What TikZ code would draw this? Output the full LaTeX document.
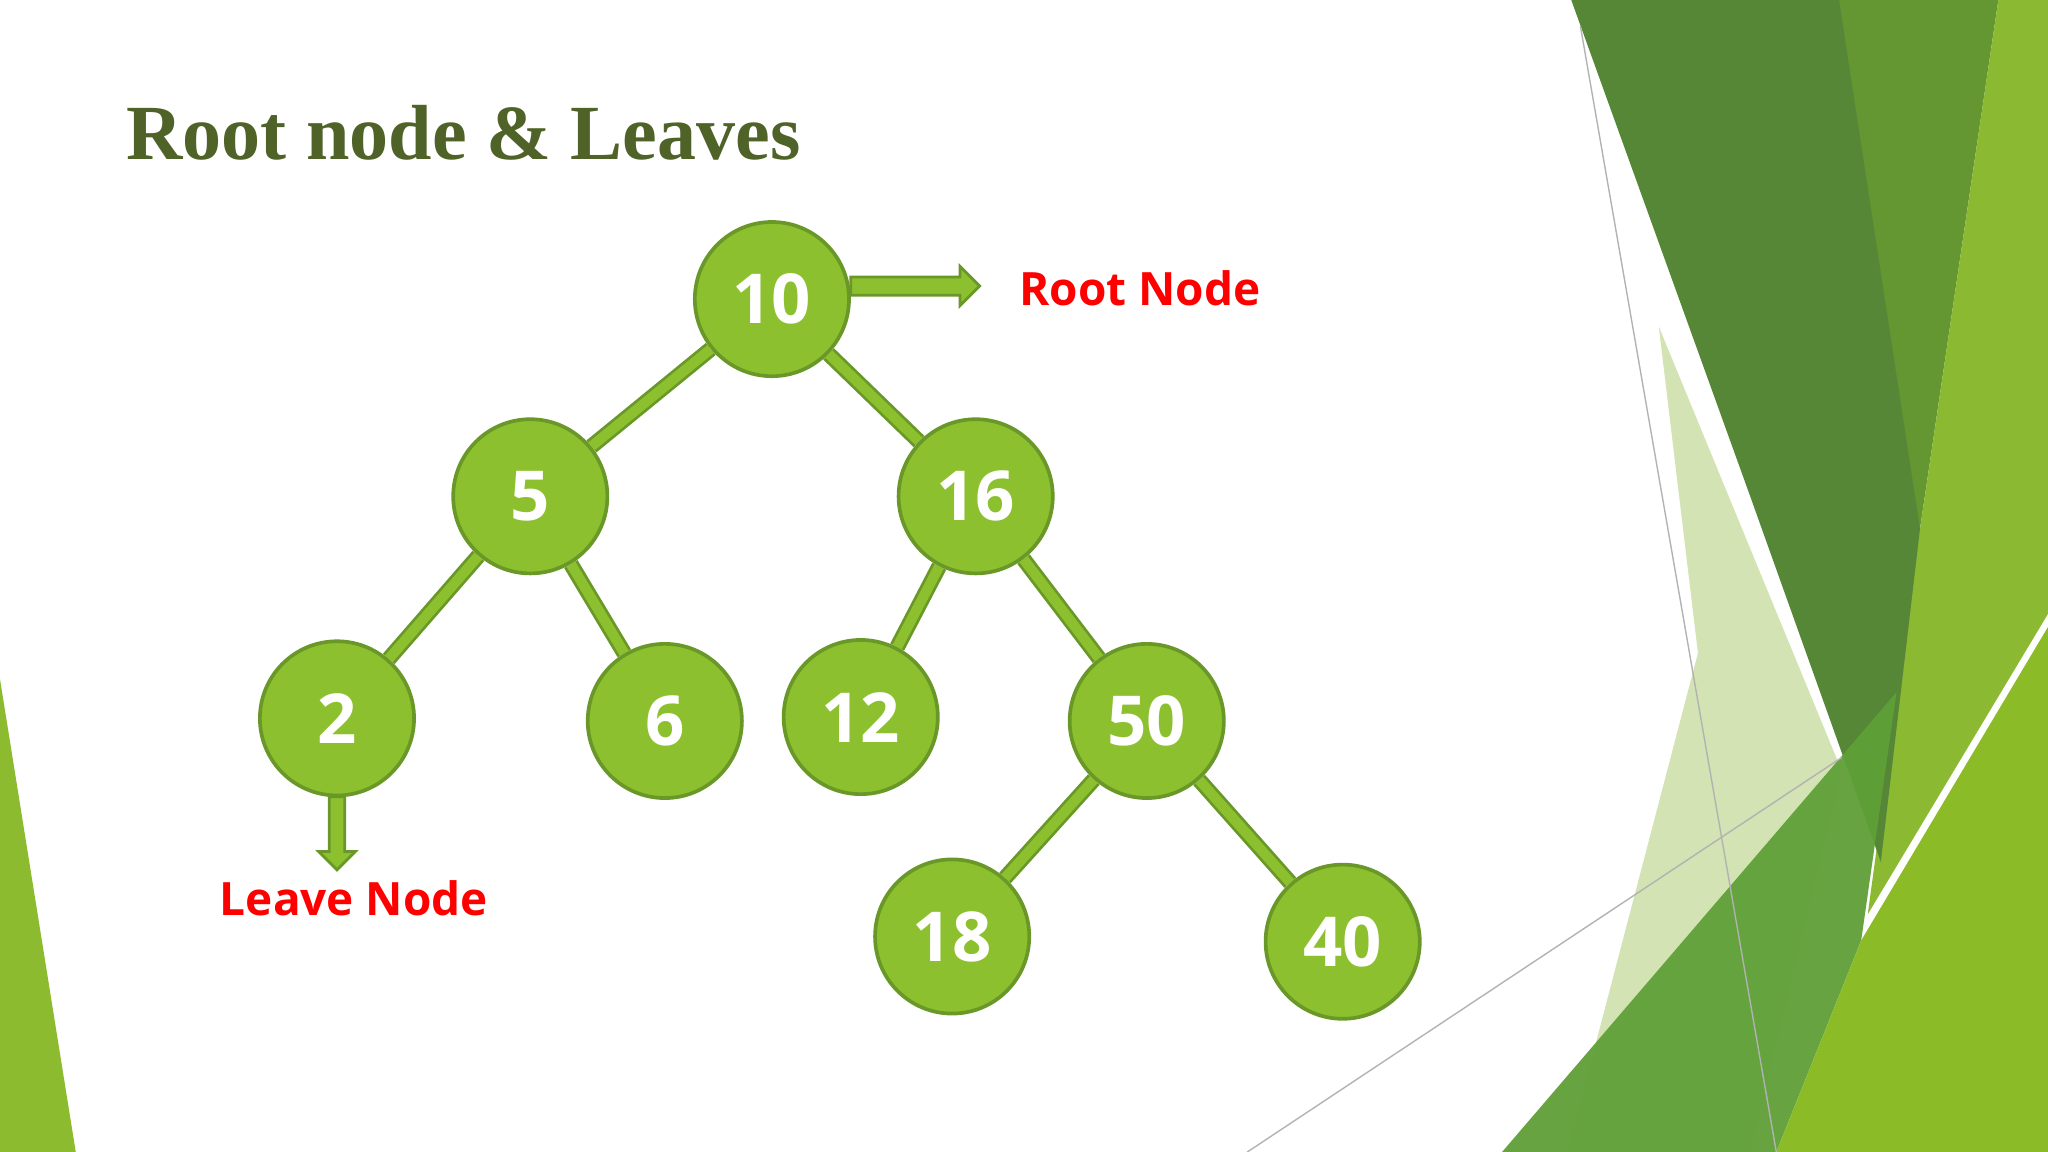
\documentclass[tikz,border=0pt]{standalone}
\usepackage{fontspec}
\setmainfont{Liberation Serif}
\newfontfamily\nodefont{Open Sans}
\begin{document}
\begin{tikzpicture}[x=0.01cm,y=-0.01cm,
  tnode/.style={circle,fill=nodefill,draw=nodeedge,line width=0.8pt,minimum size=1.18cm,inner sep=0pt,text=white,font=\nodefont\bfseries\fontsize{15}{18}\selectfont},
  tedge/.style={draw=nodeedge,line width=0.6pt,double=nodefill,double distance=2.2pt},
  lbl/.style={text=red,font=\nodefont\bfseries\fontsize{10}{12}\selectfont},
  blockarrow/.style={fill=nodefill,draw=nodeedge,line width=0.6pt}]
\definecolor{nodefill}{HTML}{8DC02F}
\definecolor{nodeedge}{HTML}{6A9828}
\definecolor{titlecol}{HTML}{4F6228}
\definecolor{leftstrip}{HTML}{8DBB2F}
\useasboundingbox (0,0) rectangle (1568,882);
\fill[white] (0,0) rectangle (1568,882);
% background decoration
\fill[leftstrip] (0,520) -- (58,882) -- (0,882) -- cycle;
\fill[color={rgb,255:red,200;green,220;blue,160},opacity=0.8] (1270,250) -- (1410,590) -- (1340,882) -- (1200,882) -- (1300,500) -- cycle;
\fill[color={rgb,255:red,100;green,150;blue,50}] (1408,0) -- (1530,0) -- (1470,405) -- (1440,660) -- cycle;
\fill[color={rgb,255:red,140;green,185;blue,50}] (1530,0) -- (1568,0) -- (1568,470) -- (1430,700) -- (1470,405) -- cycle;
\fill[color={rgb,255:red,85;green,135;blue,55}] (1203,0) -- (1408,0) -- (1470,405) -- (1440,660) -- (1340,380) -- cycle;
\fill[color={rgb,255:red,95;green,160;blue,55},opacity=0.95] (1150,882) -- (1452,530) -- (1425,720) -- (1360,882) -- cycle;
\fill[color={rgb,255:red,140;green,187;blue,40}] (1568,480) -- (1568,882) -- (1360,882) -- (1425,720) -- cycle;
\draw[gray!60,line width=0.3pt] (1210,20) -- (1360,882);
\draw[gray!60,line width=0.3pt] (955,882) -- (1410,580);
% title
\node[anchor=base west,text=titlecol,font=\bfseries\fontsize{17}{20}\selectfont,inner sep=0pt] (title) at (96,122) {Root node \& Leaves};
% nodes
\node[tnode] (n10) at (591,229) {10};
\node[tnode] (n5) at (406,380) {5};
\node[tnode] (n16) at (747,380) {16};
\node[tnode] (n2) at (258,550) {2};
\node[tnode] (n6) at (509,552) {6};
\node[tnode] (n12) at (659,549) {12};
\node[tnode] (n50) at (878,552) {50};
\node[tnode] (n18) at (729,717) {18};
\node[tnode] (n40) at (1028,721) {40};
% edges
\draw[tedge] (n10) -- (n5);
\draw[tedge] (n10) -- (n16);
\draw[tedge] (n5) -- (n2);
\draw[tedge] (n5) -- (n6);
\draw[tedge] (n16) -- (n12);
\draw[tedge] (n16) -- (n50);
\draw[tedge] (n50) -- (n18);
\draw[tedge] (n50) -- (n40);
% labels
\node[lbl,anchor=west] (rootlbl) at (768,221) {Root Node};
\node[lbl] (leavelbl) at (271,688) {Leave Node};
% block arrows
\draw[blockarrow] (n10.east |- 0,212) -- (735,212) -- (735,204) -- (750,219) -- (735,234) -- (735,226) -- (n10.east |- 0,226) -- cycle;
\draw[blockarrow] (252,610) -- (264,610) -- (264,652) -- (272,652) -- (258,666) -- (244,652) -- (252,652) -- cycle;
\end{tikzpicture}
\end{document}
